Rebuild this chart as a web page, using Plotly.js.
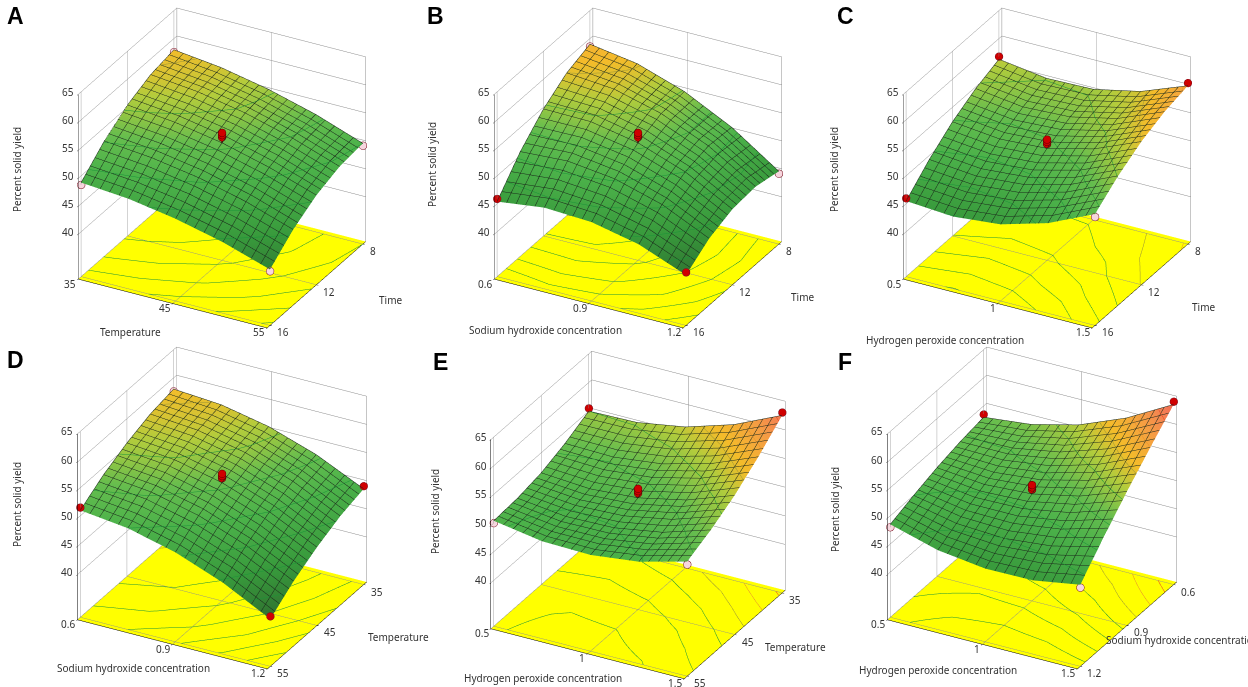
<!DOCTYPE html>
<html><head><meta charset="utf-8">
<script src="https://cdn.plot.ly/plotly-3.0.1.min.js"></script>
<style>html,body{margin:0;padding:0;background:#fff}#chart{width:1248px;height:687px}#msg{position:absolute;left:300px;top:300px;color:red;font-size:14px;z-index:10}</style>
</head><body><div id="msg"></div><div id="chart"></div>
<script>
window.onerror = function(m){ document.getElementById('msg').textContent += ' ERR: ' + m; };
// factor levels (grid positions)
const tempLevels = [35, 40, 45, 50, 55];
const timeLevels = [8, 10, 12, 14, 16];
const naohLevels = [0.6, 0.75, 0.9, 1.05, 1.2];
const h2o2Levels = [0.5, 0.75, 1.0, 1.25, 1.5];

// tick labels
const tempTicks = [35, 45, 55];
const timeTicks = [8, 12, 16];
const naohTicks = [0.6, 0.9, 1.2];
const h2o2Ticks = [0.5, 1, 1.5];
const yieldTicks = [40, 45, 50, 55, 60, 65];
const yieldFloor = 32;

// percent solid yield surfaces (rows = second factor, cols = first factor)
const yieldA = [ // Temperature x Time
  [58.0, 57.0, 55.3, 53.0, 50.0],
  [57.2, 56.3, 54.7, 52.4, 49.5],
  [55.4, 54.5, 53.0, 50.8, 48.0],
  [52.6, 51.8, 50.4, 48.3, 45.5],
  [48.8, 48.1, 46.7, 44.7, 42.0]];
const yieldB = [ // NaOH x Time
  [59.0, 57.7, 54.9, 50.7, 45.0],
  [57.5, 56.8, 54.6, 51.0, 45.9],
  [54.7, 54.6, 53.0, 50.0, 45.5],
  [50.7, 51.2, 50.2, 47.8, 43.9],
  [45.4, 46.5, 46.1, 44.3, 41.0]];
const yieldC = [ // H2O2 x Time
  [56.3, 55.1, 55.3, 57.1, 60.3],
  [54.7, 53.6, 54.0, 55.9, 59.3],
  [52.4, 51.5, 52.0, 54.1, 57.6],
  [49.3, 48.5, 49.2, 51.4, 55.1],
  [45.5, 44.9, 45.7, 48.1, 51.9]];
const yieldD = [ // NaOH x Temperature
  [58.0, 57.4, 55.7, 52.9, 49.0],
  [57.2, 56.5, 54.7, 51.8, 47.8],
  [55.7, 54.9, 53.0, 50.0, 45.9],
  [53.7, 52.8, 50.8, 47.7, 43.5],
  [51.0, 50.0, 47.9, 44.7, 40.4]];
const yieldE = [ // H2O2 x Temperature
  [55.0, 55.2, 56.6, 59.2, 63.0],
  [53.0, 52.8, 53.8, 56.0, 59.4],
  [51.5, 50.9, 51.5, 53.3, 56.3],
  [50.7, 49.7, 49.9, 51.3, 53.9],
  [50.4, 49.0, 48.8, 49.8, 52.0]];
const yieldF = [ // H2O2 x NaOH
  [53.0, 53.9, 56.0, 59.4, 64.0],
  [52.3, 52.3, 53.6, 56.2, 60.0],
  [51.3, 50.5, 51.0, 52.8, 55.8],
  [50.0, 48.4, 48.1, 49.1, 51.3],
  [48.5, 46.1, 45.0, 45.1, 46.5]];

// design points at the corners: first factor, second factor, yield, above surface?
const ptsA_x = [35, 35, 55, 55], ptsA_y = [16, 8, 8, 16], ptsA_z = [48.4, 57.6, 49.6, 41.7], ptsA_up = [0, 0, 0, 0];
const ptsB_x = [0.6, 0.6, 1.2, 1.2], ptsB_y = [16, 8, 8, 16], ptsB_z = [45.9, 58.6, 44.6, 41.5], ptsB_up = [1, 0, 0, 1];
const ptsC_x = [0.5, 0.5, 1.5, 1.5], ptsC_y = [16, 8, 8, 16], ptsC_z = [46.0, 56.8, 60.8, 51.4], ptsC_up = [1, 1, 1, 0];
const ptsD_x = [0.6, 0.6, 1.2, 1.2], ptsD_y = [55, 35, 35, 55], ptsD_z = [51.5, 57.6, 49.5, 40.9], ptsD_up = [1, 0, 1, 1];
const ptsE_x = [0.5, 0.5, 1.5, 1.5], ptsE_y = [55, 35, 35, 55], ptsE_z = [50.0, 55.5, 63.5, 51.5], ptsE_up = [0, 1, 1, 0];
const ptsF_x = [0.5, 0.5, 1.5, 1.5], ptsF_y = [1.2, 0.6, 0.6, 1.2], ptsF_z = [48.0, 53.5, 64.5, 46.0], ptsF_up = [0, 1, 1, 0];
// centre-point replicates
const centreA = [54.0, 54.4, 54.8];
const centreB = [54.0, 54.4, 54.8];
const centreC = [52.8, 53.2, 53.6];
const centreD = [53.8, 54.2, 54.6];
const centreE = [52.3, 52.7, 53.1];
const centreF = [51.8, 52.2, 52.6];

// upper floor-contour levels drawn in warm colours (lower levels are green)
const warmLevels = [57.5, 60, 62.5];
const warmColors = ['#9a9436', '#e8902a', '#e8401e'];

// panel layout (pixel boxes in the 1248x687 figure) and titles
const panels = [
  {id:'A', xl:tempLevels, yl:timeLevels, z:yieldA, xt:tempTicks, yt:timeTicks, xTitle:'Temperature', yTitle:'Time',
   px:ptsA_x, py:ptsA_y, pz:ptsA_z, pu:ptsA_up, cz:centreA, box:[14, 0, 430, 336],
   xT:[130, 332], yT:[390, 300], zT:[17, 170]},
  {id:'B', xl:naohLevels, yl:timeLevels, z:yieldB, xt:naohTicks, yt:timeTicks, xTitle:'Sodium hydroxide concentration', yTitle:'Time',
   px:ptsB_x, py:ptsB_y, pz:ptsB_z, pu:ptsB_up, cz:centreB, box:[430, 0, 846, 336],
   xT:[545, 330], yT:[802, 297], zT:[432, 165]},
  {id:'C', xl:h2o2Levels, yl:timeLevels, z:yieldC, xt:h2o2Ticks, yt:timeTicks, xTitle:'Hydrogen peroxide concentration', yTitle:'Time',
   px:ptsC_x, py:ptsC_y, pz:ptsC_z, pu:ptsC_up, cz:centreC, box:[846, 0, 1248, 336],
   xT:[945, 340], yT:[1203, 307], zT:[834, 170]},
  {id:'D', xl:naohLevels, yl:tempLevels, z:yieldD, xt:naohTicks, yt:tempTicks, xTitle:'Sodium hydroxide concentration', yTitle:'Temperature',
   px:ptsD_x, py:ptsD_y, pz:ptsD_z, pu:ptsD_up, cz:centreD, box:[14, 339, 430, 677],
   xT:[133, 668], yT:[398, 637], zT:[17, 505]},
  {id:'E', xl:h2o2Levels, yl:tempLevels, z:yieldE, xt:h2o2Ticks, yt:tempTicks, xTitle:'Hydrogen peroxide concentration', yTitle:'Temperature',
   px:ptsE_x, py:ptsE_y, pz:ptsE_z, pu:ptsE_up, cz:centreE, box:[430, 343, 846, 687],
   xT:[543, 678], yT:[795, 647], zT:[435, 512]},
  {id:'F', xl:h2o2Levels, yl:naohLevels, z:yieldF, xt:h2o2Ticks, yt:naohTicks, xTitle:'Hydrogen peroxide concentration', yTitle:'Sodium hydroxide concentration',
   px:ptsF_x, py:ptsF_y, pz:ptsF_z, pu:ptsF_up, cz:centreF, box:[831, 339, 1233, 677],
   xT:[938, 670], yT:[1182, 640], zT:[835, 510]}
];
const letterPos = [[15, 16], [435, 16], [845, 16], [15, 360], [440, 362], [845, 362]];

const colorscale = [
  [0.00, '#2f6e2f'], [0.20, '#389a3c'], [0.40, '#4cb24a'], [0.52, '#66bd4e'],
  [0.64, '#b4cc3c'], [0.72, '#f4bc2a'], [0.84, '#f59c44'], [0.92, '#f47c56'], [1.00, '#f05c4c']];

const FONT = 'Noto Sans, Open Sans, sans-serif';
const W = 1248, H = 687;
const traces = [];
const layout = {
  width: W, height: H, margin: {l:0, r:0, t:0, b:0},
  paper_bgcolor: '#ffffff', showlegend: false, font: {family: FONT, size: 10, color: '#333'},
  annotations: []
};
const txtFont = {family: FONT, size: 10, color: '#333'};
const lighting = {ambient: 1.0, diffuse: 0.28, specular: 0.0, roughness: 1.0, fresnel: 0.0};

panels.forEach((p, i) => {
  const sc = i === 0 ? 'scene' : 'scene' + (i + 1);
  const xmin = p.xl[0], xmax = p.xl[p.xl.length - 1];
  const ymin = p.yl[0], ymax = p.yl[p.yl.length - 1];
  const zmax = Math.max(...p.z.map(r => Math.max(...r)));
  traces.push({
    type: 'surface', scene: sc, x: p.xl, y: p.yl, z: p.z,
    colorscale: colorscale, cmin: 40, cmax: 65, showscale: false, hoverinfo: 'skip', lighting: lighting,
    contours: {
      x: {show: true, start: xmin, end: xmax, size: (xmax - xmin) / 20, color: '#1a281a', width: 1, highlight: false},
      y: {show: true, start: ymin, end: ymax, size: (ymax - ymin) / 20, color: '#1a281a', width: 1, highlight: false},
      z: {show: true, start: 40, end: 55.1, size: 2.5, color: '#1a9438', width: 2, project: {z: true}, highlight: false}
    }
  });
  // same surface again, carrying one warm-coloured contour level each
  warmLevels.forEach((lv, k) => {
    if (lv >= zmax) return;
    traces.push({
      type: 'surface', scene: sc, x: p.xl, y: p.yl, z: p.z,
      colorscale: colorscale, cmin: 40, cmax: 65, showscale: false, hoverinfo: 'skip', lighting: lighting,
      contours: {
        x: {show: false, highlight: false}, y: {show: false, highlight: false},
        z: {show: true, start: lv, end: lv + 0.1, size: 2.5, color: warmColors[k], width: 2, project: {z: true}, highlight: false}
      }
    });
  });
  const cx = p.xl[2], cy = p.yl[2];
  traces.push({
    type: 'scatter3d', scene: sc, mode: 'lines', hoverinfo: 'skip',
    x: [cx, cx], y: [cy, cy], z: [p.z[2][2], p.cz[p.cz.length - 1]],
    line: {color: '#6a0000', width: 3}
  });
  traces.push({
    type: 'scatter3d', scene: sc, mode: 'markers', hoverinfo: 'skip',
    x: p.cz.map(() => cx), y: p.cz.map(() => cy), z: p.cz,
    marker: {size: 4.5, color: '#d00000', line: {color: '#600000', width: 1}}
  });
  traces.push({
    type: 'scatter3d', scene: sc, mode: 'markers', hoverinfo: 'skip',
    x: p.px, y: p.py, z: p.pz,
    marker: {size: 4.5, color: p.pu.map(u => u ? '#d00000' : '#f7d6de'), line: {color: '#7a1020', width: 1}}
  });

  const axBase = {
    showgrid: true, gridcolor: '#8c8c8c', gridwidth: 1, zeroline: false,
    showline: true, linecolor: '#000', linewidth: 1,
    ticks: 'outside', ticklen: 2, tickcolor: '#000', showticklabels: false,
    title: {text: ''}, showspikes: false, showbackground: false
  };
  // tick labels as horizontal scene annotations
  const ann = [];
  p.xt.forEach(v => ann.push({x: v, y: ymax, z: yieldFloor, text: String(v), showarrow: false,
    xanchor: 'right', yanchor: 'top', xshift: -3, yshift: 2, font: txtFont}));
  p.yt.forEach(v => ann.push({x: xmax, y: v, z: yieldFloor, text: String(v), showarrow: false,
    xanchor: 'left', yanchor: 'top', xshift: 5, yshift: 2, font: txtFont}));
  yieldTicks.forEach(v => ann.push({x: xmin, y: ymax, z: v, text: String(v), showarrow: false,
    xanchor: 'right', yanchor: 'middle', xshift: -5, font: txtFont}));

  const b = p.box;
  layout[sc] = {
    domain: {x: [b[0] / W, b[2] / W], y: [1 - b[3] / H, 1 - b[1] / H]},
    aspectmode: 'manual', aspectratio: {x: 1.28, y: 1.23, z: 1.25},
    camera: {eye: {x: 0.652, y: -1.2, z: 0.739}, center: {x: 0, y: 0, z: 0}, up: {x: 0, y: 0, z: 1},
             projection: {type: 'orthographic'}},
    xaxis: Object.assign({}, axBase, {range: [xmin, xmax], tickvals: p.xt}),
    yaxis: Object.assign({}, axBase, {autorange: 'reversed', tickvals: p.yt}),
    zaxis: Object.assign({}, axBase, {range: [yieldFloor, 65], tickvals: yieldTicks,
      showbackground: true, backgroundcolor: '#ffff00'}),
    annotations: ann
  };
  // axis titles
  layout.annotations.push({text: p.xTitle, xref: 'paper', yref: 'paper', x: p.xT[0] / W, y: 1 - p.xT[1] / H,
    xanchor: 'center', yanchor: 'middle', showarrow: false, font: txtFont});
  layout.annotations.push({text: p.yTitle, xref: 'paper', yref: 'paper', x: p.yT[0] / W, y: 1 - p.yT[1] / H,
    xanchor: 'center', yanchor: 'middle', showarrow: false, font: txtFont});
  layout.annotations.push({text: 'Percent solid yield', xref: 'paper', yref: 'paper', x: p.zT[0] / W, y: 1 - p.zT[1] / H,
    xanchor: 'center', yanchor: 'middle', textangle: -90, showarrow: false, font: txtFont});
  layout.annotations.push({
    text: '<b>' + p.id + '</b>', xref: 'paper', yref: 'paper',
    x: letterPos[i][0] / W, y: 1 - letterPos[i][1] / H, xanchor: 'center', yanchor: 'middle', showarrow: false,
    font: {family: 'Liberation Sans, Arial, sans-serif', size: 23, color: '#000'}
  });
});

Plotly.newPlot('chart', traces, layout, {displayModeBar: false}).catch(e => {
  document.getElementById('msg').textContent += ' catch: ' + e;
});
</script>
</body></html>
